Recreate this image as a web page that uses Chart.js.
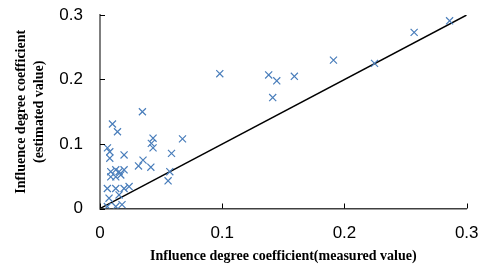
<!DOCTYPE html>
<html>
<head>
<meta charset="utf-8">
<script src="https://cdn.jsdelivr.net/npm/chart.js@4.4.1/dist/chart.umd.min.js"></script>
<style>
  html, body { margin: 0; padding: 0; background: #fff; }
</style>
</head>
<body>
<canvas id="chart" width="482" height="268"></canvas>
<script>
// measured (x) vs estimated (y) influence degree coefficient
const measured = [
  0.286, 0.257, 0.2246, 0.191, 0.159, 0.1446, 0.138, 0.1413, 0.098,
  0.0347, 0.0102, 0.0143, 0.0434, 0.042, 0.0434, 0.0675, 0.0585,
  0.0061, 0.008, 0.0197, 0.008, 0.0352, 0.0315, 0.0416, 0.0571, 0.0557,
  0.0088, 0.0129, 0.0156, 0.0197, 0.0088, 0.0129, 0.017,
  0.006, 0.0129, 0.0197, 0.0238, 0.0074, 0.0156, 0.006, 0.0129, 0.018
];
const estimated = [
  0.291, 0.273, 0.225, 0.230, 0.205, 0.198, 0.207, 0.172, 0.209,
  0.150, 0.131, 0.119, 0.109, 0.101, 0.094, 0.108, 0.0855,
  0.094, 0.088, 0.083, 0.078, 0.075, 0.066, 0.064, 0.057, 0.043,
  0.057, 0.060, 0.057, 0.060, 0.049, 0.049, 0.052,
  0.031, 0.031, 0.031, 0.034, 0.016, 0.021, 0.003, 0.003, 0.006
];
// reference line y = x
const refLineX = [0, 0.3];
const refLineY = [0, 0.3];
const tickValues = [0, 0.1, 0.2, 0.3];

const points = measured.map((v, i) => ({ x: v, y: estimated[i] }));
const refLine = refLineX.map((v, i) => ({ x: v, y: refLineY[i] }));

// little tick marks pointing into the plot, like the original
const insideTicks = {
  id: 'insideTicks',
  afterDraw(chart) {
    const ctx = chart.ctx;
    const xs = chart.scales.x, ys = chart.scales.y;
    const area = chart.chartArea;
    ctx.save();
    ctx.strokeStyle = '#000';
    ctx.lineWidth = 1;
    tickValues.forEach(v => {
      const px = Math.round(xs.getPixelForValue(v)) + 0.5;
      ctx.beginPath();
      ctx.moveTo(px, area.bottom);
      ctx.lineTo(px, area.bottom - 5);
      ctx.stroke();
      const py = Math.round(ys.getPixelForValue(v)) + 0.5;
      ctx.beginPath();
      ctx.moveTo(area.left, py);
      ctx.lineTo(area.left + 5, py);
      ctx.stroke();
    });
    ctx.restore();
  }
};

new Chart(document.getElementById('chart'), {
  type: 'scatter',
  data: {
    datasets: [
      {
        label: 'values',
        data: points,
        pointStyle: 'crossRot',
        pointRadius: 5,
        pointBorderWidth: 1.2,
        borderColor: '#4a7ebb',
        backgroundColor: '#4a7ebb'
      },
      {
        type: 'line',
        label: 'y = x',
        data: refLine,
        borderColor: '#000',
        borderWidth: 1.5,
        pointRadius: 0,
        fill: false
      }
    ]
  },
  options: {
    responsive: false,
    animation: false,
    layout: { padding: { left: 0, right: 15.3, top: 15, bottom: 0 } },
    plugins: {
      legend: { display: false },
      tooltip: { enabled: false }
    },
    scales: {
      x: {
        type: 'linear',
        min: 0, max: 0.3,
        afterFit: s => { s.height = 59.5; s.paddingLeft = 0; s.paddingRight = 0; },
        afterBuildTicks: s => { s.ticks = tickValues.map(v => ({ value: v })); },
        grid: { display: false, drawTicks: false },
        border: { display: true, color: '#404040', width: 1.5 },
        ticks: {
          padding: 15,
          color: '#000',
          font: { family: 'Liberation Sans', size: 17 },
          callback: v => String(v)
        },
        title: {
          display: true,
          text: 'Influence degree coefficient(measured value)',
          color: '#000',
          padding: { top: 0, bottom: 3 },
          font: { family: 'Liberation Serif', size: 14, weight: 'bold', lineHeight: 1.3 }
        }
      },
      y: {
        type: 'linear',
        min: 0, max: 0.3,
        afterFit: s => { s.width = 100; s.paddingTop = 0; s.paddingBottom = 0; },
        afterBuildTicks: s => { s.ticks = tickValues.map(v => ({ value: v })); },
        grid: { display: false, drawTicks: false },
        border: { display: true, color: '#7f7f7f', width: 2 },
        ticks: {
          padding: 17,
          color: '#000',
          font: { family: 'Liberation Sans', size: 17 },
          callback: v => String(v)
        },
        title: {
          display: true,
          text: ['Influence degree coefficient', '(estimated value)'],
          color: '#000',
          padding: { top: 12, bottom: 0 },
          font: { family: 'Liberation Serif', size: 14, weight: 'bold', lineHeight: 1.3 }
        }
      }
    }
  },
  plugins: [insideTicks]
});
</script>
</body>
</html>
